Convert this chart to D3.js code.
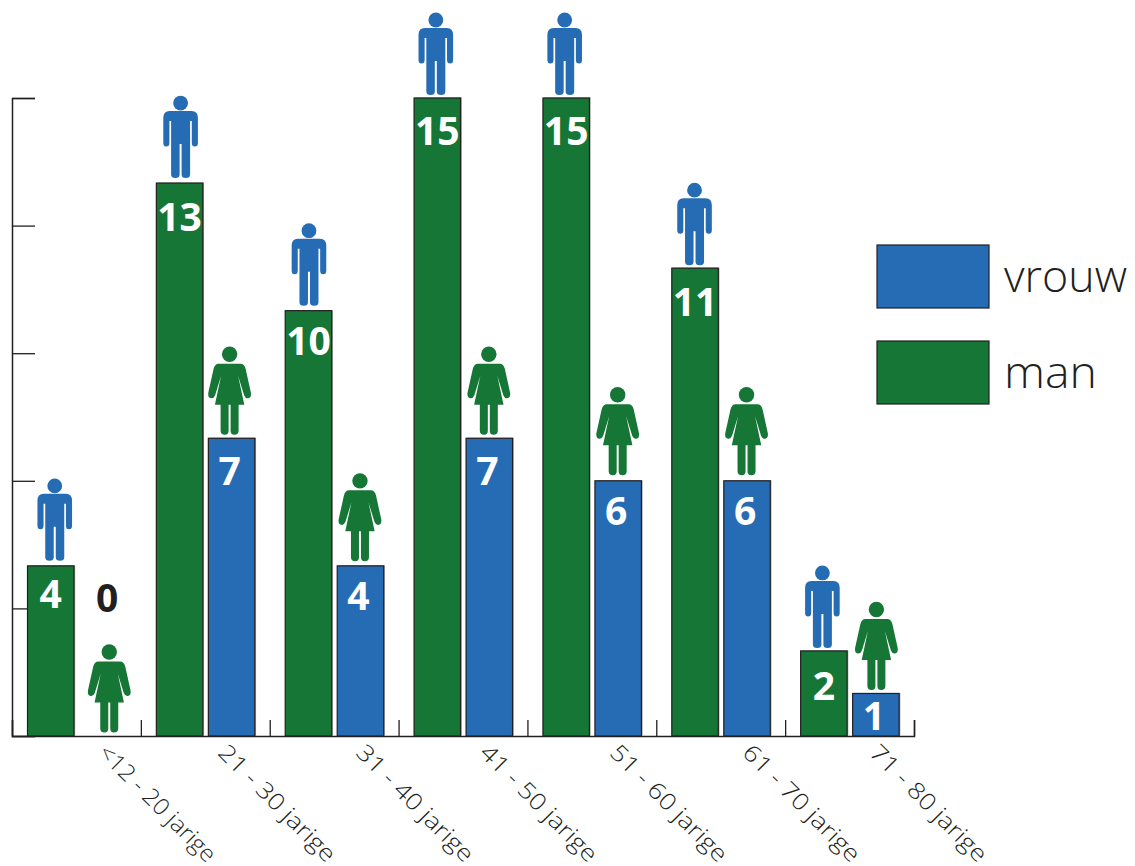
<!DOCTYPE html>
<html>
<head>
<meta charset="utf-8">
<script src="https://cdn.jsdelivr.net/npm/d3@7"></script>
<style>
  html, body { margin: 0; padding: 0; background: #fff; }
  svg { display: block; }
</style>
</head>
<body>
<div id="chart"></div>
<script>
const categories = ["<12 - 20 jarige", "21 - 30 jarige", "31 - 40 jarige", "41 - 50 jarige", "51 - 60 jarige", "61 - 70 jarige", "71 - 80 jarige"];
const manValues = [4, 13, 10, 15, 15, 11, 2];
const vrouwValues = [0, 7, 4, 7, 6, 6, 1];
const yTicks = [0, 3, 6, 9, 12, 15];
const legendLabels = ["vrouw", "man"];

// hand placed nudges, the original artwork is not quite regular
const manIconDx = [4, 1, 0.5, -1.5, -1.5, -0.5, -1.5];
const vrouwIconDx = [6.5, -2, -0.5, -0.5, -0.5, -0.5, 0.5];
const manFeetGap = [5, 5, 5, 3, 3, 3, 3];
const vrouwFeetGap = [3.5, 3.5, 4.5, 3.5, 5.5, 5.5, 3.5];
const manTextDy = [42, 48, 44, 47, 47, 48, 49];
const vrouwTextDy = [0, 47, 44, 47, 44, 44, 37];
const labelDx = [85, 76, 85, 80, 81, 85, 83];

const BLUE = "#266cb4", GREEN = "#157636", INK = "#231f20";
const labelFont = "'Open Sans', sans-serif";
const valueFont = "'Open Sans', sans-serif";

const svg = d3.select("#chart").append("svg").attr("width", 1135).attr("height", 866);

const x = d3.scaleBand().domain(categories).range([12, 914]);
const xEdge = d3.scaleLinear().domain([0, categories.length]).range([12, 914]);
const sex = d3.scaleBand().domain(["man", "vrouw"]).range([15.5, 114]).paddingInner(5.5 / 52);
const y = d3.scaleLinear().domain([0, 15]).range([736, 98]);

// axes
svg.append("g").attr("transform", "translate(12,0)")
  .call(d3.axisLeft(y).tickValues(yTicks).tickSize(-23).tickFormat(""));
svg.append("g").attr("transform", "translate(0,736)")
  .call(d3.axisBottom(xEdge).ticks(categories.length).tickSize(-16).tickFormat(""));
svg.selectAll(".domain").attr("stroke", INK).attr("stroke-width", 1.5);
svg.selectAll(".tick line").attr("stroke", INK).attr("stroke-width", 1.3);

// pictograms, origin at the feet centre
function manPath(g, color) {
  g.append("circle").attr("cx", 0).attr("cy", -75).attr("r", 7.4).attr("fill", color);
  g.append("path").attr("fill", color)
    .attr("d", "M-11,-67 H11 Q17.3,-67 17.3,-60 V-35 Q17.3,-31.5 14.3,-31.5 Q11.2,-31.5 11.2,-35 V-57 H9.5 V-3.5 Q9.5,0 5.2,0 Q1,0 1,-3.5 V-34 H-1 V-3.5 Q-1,0 -5.2,0 Q-9.5,0 -9.5,-3.5 V-57 H-11.2 V-35 Q-11.2,-31.5 -14.3,-31.5 Q-17.3,-31.5 -17.3,-35 V-60 Q-17.3,-67 -11,-67 Z");
}
function womanPath(g, color) {
  g.append("circle").attr("cx", 0).attr("cy", -80.5).attr("r", 7.7).attr("fill", color);
  g.append("path").attr("fill", color)
    .attr("d", "M-11,-71 H11 Q14.5,-71 16,-66 L21.3,-42 Q22,-37 18.5,-36.5 Q16,-36 14.5,-39.5 L8.5,-59 L14.7,-30 H9 V-4 Q9,0 4.7,0 Q1,0 1,-4 V-30 H-1 V-4 Q-1,0 -4.7,0 Q-9,0 -9,-4 V-30 H-14.7 L-8.5,-59 L-14.5,-39.5 Q-16,-36 -18.5,-36.5 Q-22,-37 -21.3,-42 L-16,-66 Q-14.5,-71 -11,-71 Z");
}

function drawSeries(values, name, color, iconColor, icon, feetGap, iconDx, textDy, textDx) {
  const g = svg.append("g").attr("class", name);
  values.forEach((v, i) => {
    const bx = x(categories[i]) + sex(name);
    const w = sex.bandwidth();
    const cx = bx + w / 2;
    if (v > 0) {
      g.append("rect").attr("x", bx + 1.2).attr("y", y(v) - 0.5).attr("width", w).attr("height", y(0) - y(v) + 0.5)
        .attr("fill", "#a5a5a5");
      g.append("rect").attr("x", bx).attr("y", y(v)).attr("width", w).attr("height", y(0) - y(v))
        .attr("fill", color).attr("stroke", INK).attr("stroke-width", 1.2);
    }
    const top = y(v);
    icon(g.append("g").attr("transform", `translate(${cx + iconDx[i]},${top - feetGap[i]})`), iconColor);
    // the zero has no bar to sit in, it floats above the icon
    g.append("text").attr("x", v > 0 ? cx + textDx : cx + 4.5).attr("y", v > 0 ? top + textDy[i] : 612)
      .attr("text-anchor", "middle").attr("font-family", valueFont)
      .attr("font-weight", 700).attr("font-size", 39)
      .attr("fill", v > 0 ? "#fff" : INK).text(v);
  });
}
drawSeries(manValues, "man", GREEN, BLUE, manPath, manFeetGap, manIconDx, manTextDy, 0);
drawSeries(vrouwValues, "vrouw", BLUE, GREEN, womanPath, vrouwFeetGap, vrouwIconDx, vrouwTextDy, -2);

// category labels
categories.forEach((c, i) => {
  svg.append("text")
    .attr("transform", `translate(${x(c) + labelDx[i]},754) rotate(45)`)
    .attr("font-family", labelFont).attr("font-weight", 300).attr("font-size", 23).attr("fill", INK)
    .attr("textLength", 155).attr("lengthAdjust", "spacingAndGlyphs")
    .text(c);
});

// legend
const legendY = d3.scalePoint().domain(legendLabels).range([245, 341]);
legendLabels.forEach((l, i) => {
  svg.append("rect").attr("x", 877).attr("y", legendY(l)).attr("width", 112).attr("height", 63)
    .attr("fill", i === 0 ? BLUE : GREEN).attr("stroke", INK).attr("stroke-width", 1.2);
  svg.append("text").attr("x", 1004).attr("y", legendY(l) + 47)
    .attr("font-family", labelFont).attr("font-weight", 300).attr("font-size", 44).attr("fill", INK)
    .attr("textLength", i === 0 ? 123 : 93).attr("lengthAdjust", "spacingAndGlyphs")
    .text(l);
});
</script>
</body>
</html>
